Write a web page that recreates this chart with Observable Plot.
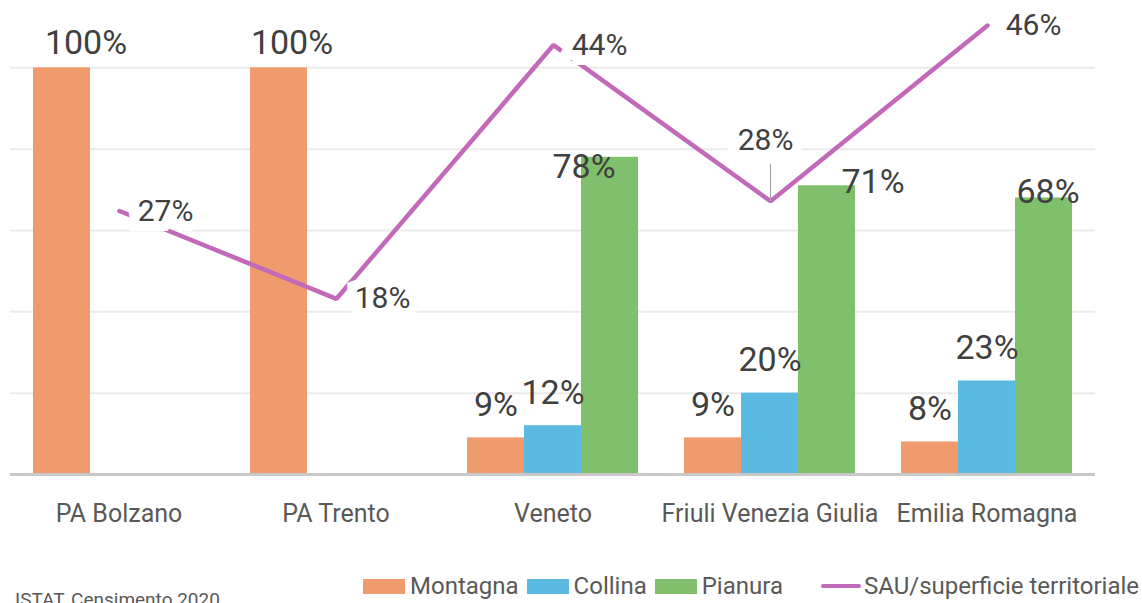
<!DOCTYPE html>
<html>
<head>
<meta charset="utf-8">
<script src="https://cdn.jsdelivr.net/npm/d3@7"></script>
<script src="https://cdn.jsdelivr.net/npm/@observablehq/plot@0.6"></script>
<style>
  html, body { margin: 0; padding: 0; background: #fff; width: 1142px; height: 603px; overflow: hidden; font-family: Roboto, "Liberation Sans", sans-serif; }
  #wrap { position: relative; width: 1142px; height: 603px; }
  #wrap svg { position: absolute; left: 0; top: -14px; overflow: visible; }
  #legend { position: absolute; left: 363px; top: 572px; height: 28px; display: flex; align-items: center; font-size: 24px; color: #595959; white-space: nowrap; }
  .sw { display: inline-block; width: 42px; height: 15px; margin-right: 5px; }
  .item { display: flex; align-items: center; margin-right: 8px; }
  .ln { display: inline-block; width: 40px; height: 4px; border-radius: 2px; margin-right: 3px; }
  #caption { position: absolute; left: 15px; top: 588px; font-size: 19px; color: #595959; white-space: nowrap; }
</style>
</head>
<body>
<div id="wrap"></div>
<script>
// ---- data ----
const regions = ["PA Bolzano", "PA Trento", "Veneto", "Friuli Venezia Giulia", "Emilia Romagna"];
const series = ["Montagna", "Collina", "Pianura"];
const montagna = [1.00, 1.00, 0.09, 0.09, 0.08];
const collina  = [null, null, 0.12, 0.20, 0.23];
const pianura  = [null, null, 0.78, 0.71, 0.68];
const sau      = [0.27, 0.18, 0.44, 0.28, 0.46];
const lineName = "SAU/superficie territoriale";
const caption = "ISTAT, Censimento 2020";

// ---- styles ----
const colors = ["#ef9b6e", "#5abae2", "#80c06c"];
const lineColor = "#c26ab9";
const W = 1142, H = 574, ML = 10, MR = 47, MT = 0, MB = 86;
const primaryMax = 1.2, secondaryMax = 0.5;
const sauLabelPlacement = ["right", "right", "right", "above", "right"];
// label nudges (pixels) per series, per region, as placed in the original chart
const labelNudge = {
  Montagna: {dx: [24, 13, 0, 0, 0], dy: [-25, -25, -33, -33, -33]},
  Collina:  {dx: [0, 0, 0, 0, 0],   dy: [-33, -33, -33, -33, -33]},
  Pianura:  {dx: [0, 0, -26, 46, 4], dy: [0, 0, 10, -4, -6]}
};

const bySeries = [montagna, collina, pianura];
const barData = [];
series.forEach((s, si) => regions.forEach((r, ri) => {
  const v = bySeries[si][ri];
  if (v != null) barData.push({region: r, series: s, value: v, ri});
}));
const sauData = regions.map((r, i) => ({region: r, value: sau[i], place: sauLabelPlacement[i]}));
const pct = v => Math.round(v * 100) + "%";

// one text mark per (series, region) so each can carry its own nudge
const barLabels = barData.map(d => Plot.text([d], {
  fx: "region", x: "series", y: "value", text: d => pct(d.value),
  fontSize: 34, fill: "#404040",
  dx: labelNudge[d.series].dx[d.ri], dy: labelNudge[d.series].dy[d.ri]
}));

const bars = Plot.plot({
  width: W, height: H,
  marginLeft: ML, marginRight: MR, marginTop: MT, marginBottom: MB,
  style: {fontFamily: "Roboto, sans-serif", background: "transparent", overflow: "visible"},
  fx: {domain: regions, padding: 0, label: null},
  x: {domain: series, paddingInner: 0, paddingOuter: 0.4035, axis: null},
  y: {domain: [0, primaryMax], axis: null},
  color: {domain: series, range: colors},
  marks: [
    Plot.gridY([0.2, 0.4, 0.6, 0.8, 1.0], {stroke: "#ebebeb", strokeWidth: 2, strokeOpacity: 1}),
    Plot.barY(barData, {fx: "region", x: "series", y: "value", fill: "series"}),
    Plot.ruleY([0], {stroke: "#c8c8c8", strokeWidth: 3}),
    ...barLabels,
    Plot.axisFx({anchor: "bottom", tickSize: 0, tickPadding: 30, fontSize: 25, fill: "#595959", label: null})
  ]
});

const line = Plot.plot({
  width: W, height: H,
  marginLeft: ML, marginRight: MR, marginTop: MT, marginBottom: MB,
  style: {fontFamily: "Roboto, sans-serif", background: "transparent", overflow: "visible"},
  x: {type: "point", domain: regions, padding: 0.5, axis: null},
  y: {domain: [0, secondaryMax], axis: null},
  marks: [
    Plot.line(sauData, {x: "region", y: "value", stroke: lineColor, strokeWidth: 4.5, strokeLinejoin: "miter"}),
    Plot.link(sauData.filter(d => d.place === "above"), {x1: "region", x2: "region", y1: "value",
      y2: d => d.value + 0.038, stroke: "#a6a6a6", strokeWidth: 1.2}),
    Plot.text(sauData.filter(d => d.place === "right"), {x: "region", y: "value", text: d => pct(d.value),
      dx: 46, fontSize: 30, fill: "#404040", stroke: "white", strokeWidth: 20, strokeLinejoin: "miter"}),
    Plot.text(sauData.filter(d => d.place === "above"), {x: "region", y: "value", text: d => pct(d.value),
      dx: -5, dy: -61, fontSize: 30, fill: "#404040", stroke: "white", strokeWidth: 20, strokeLinejoin: "miter"})
  ]
});

const wrap = document.getElementById("wrap");
wrap.appendChild(bars);
wrap.appendChild(line);

// legend
const legend = document.createElement("div");
legend.id = "legend";
series.forEach((s, i) => {
  const it = document.createElement("div");
  it.className = "item";
  const sw = document.createElement("span");
  sw.className = "sw"; sw.style.background = colors[i];
  it.appendChild(sw);
  it.appendChild(document.createTextNode(s));
  legend.appendChild(it);
});
const li = document.createElement("div");
li.className = "item";
li.style.marginLeft = "30px";
const ln = document.createElement("span");
ln.className = "ln"; ln.style.background = lineColor;
li.appendChild(ln);
li.appendChild(document.createTextNode(lineName));
legend.appendChild(li);
wrap.appendChild(legend);

const cap = document.createElement("div");
cap.id = "caption";
cap.textContent = caption;
wrap.appendChild(cap);
</script>
</body>
</html>
